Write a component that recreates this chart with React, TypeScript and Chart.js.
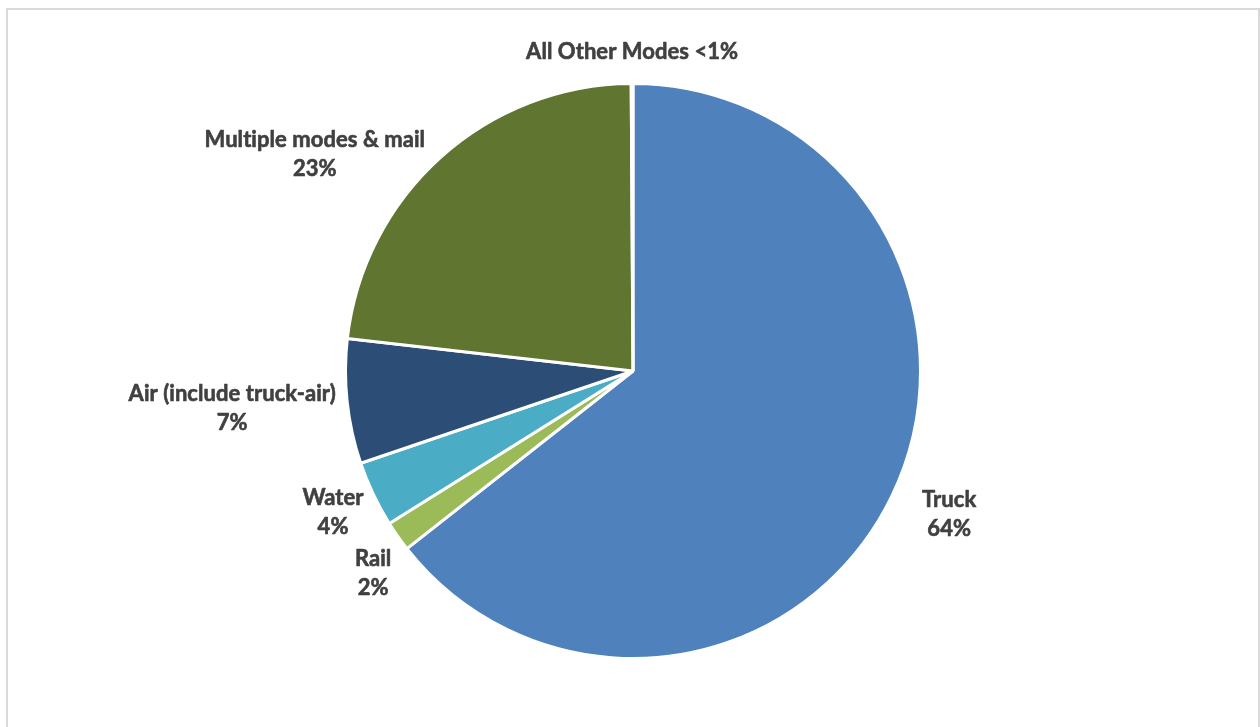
import React, { useEffect, useRef } from "react";
import { Chart, registerables } from "chart.js";

Chart.register(...registerables);

const categories = [
  "Truck",
  "Rail",
  "Water",
  "Air (include truck-air)",
  "Multiple modes & mail",
  "All Other Modes",
];
const shares = [64.4, 1.7, 3.7, 7.0, 23.1, 0.1];
const shareLabels = ["64%", "2%", "4%", "7%", "23%", "<1%"];
const sliceColors = ["#4F81BD", "#9BBB59", "#4BACC6", "#2C4D75", "#5F7530", "#F79646"];

// label anchor offsets relative to pie centre, in units of radius
const labelOffsets: [number, number, boolean][] = [
  [1.094, 0.497, false],
  [-0.899, 0.699, false],
  [-1.038, 0.490, false],
  [-1.387, 0.131, false],
  [-1.101, -0.748, false],
  [-0.003, -1.103, true],
];

const labelPlugin = {
  id: "pieLabels",
  afterDatasetsDraw(chart: any) {
    const meta = chart.getDatasetMeta(0);
    const arc = meta.data[0];
    if (!arc) return;
    const { x, y, outerRadius } = arc.getProps(["x", "y", "outerRadius"], true);
    const r = outerRadius + 1.5;
    const ctx = chart.ctx;
    ctx.save();
    ctx.font = "bold 22px Lato";
    try {
      (ctx as any).letterSpacing = "0.05px";
    } catch (e) {}
    ctx.fillStyle = "#404040";
    ctx.strokeStyle = "#404040";
    ctx.lineWidth = 0.6;
    ctx.lineJoin = "round";
    ctx.textAlign = "center";
    ctx.textBaseline = "middle";
    const lineH = 29;
    const draw = (t: string, px: number, py: number) => {
      ctx.fillText(t, px, py);
      ctx.strokeText(t, px, py);
    };
    categories.forEach((cat, i) => {
      const [ox, oy, single] = labelOffsets[i];
      const cx = x + ox * r;
      const cy = y + oy * r;
      if (single) {
        draw(`${cat} ${shareLabels[i]}`, cx, cy);
      } else {
        draw(cat, cx, cy - lineH / 2);
        draw(shareLabels[i], cx, cy + lineH / 2);
      }
    });
    ctx.restore();
  },
};

export default function App() {
  const canvasRef = useRef<HTMLCanvasElement | null>(null);

  useEffect(() => {
    if (!canvasRef.current) return;
    const chart = new Chart(canvasRef.current, {
      type: "pie",
      data: {
        labels: categories,
        datasets: [
          {
            data: shares,
            backgroundColor: sliceColors,
            borderColor: "#FFFFFF",
            borderWidth: 3,
          },
        ],
      },
      options: {
        animation: false,
        responsive: false,
        maintainAspectRatio: false,
        layout: { padding: { top: 82, bottom: 67, left: 6, right: 0 } },
        plugins: {
          legend: { display: false },
          tooltip: { enabled: false },
          title: { display: false },
        },
      },
      plugins: [labelPlugin],
    });
    return () => chart.destroy();
  }, []);

  return (
    <div
      style={{
        position: "fixed",
        left: 0,
        top: 0,
        width: 1260,
        height: 727,
        background: "#FFFFFF",
        overflow: "hidden",
      }}
    >
      <div
        style={{
          position: "absolute",
          left: 6,
          top: 8,
          width: 1250,
          height: 760,
          border: "2px solid #D9D9D9",
        }}
      />
      <canvas
        ref={canvasRef}
        width={1260}
        height={727}
        style={{ position: "absolute", left: 0, top: 0, width: 1260, height: 727 }}
      />
    </div>
  );
}
